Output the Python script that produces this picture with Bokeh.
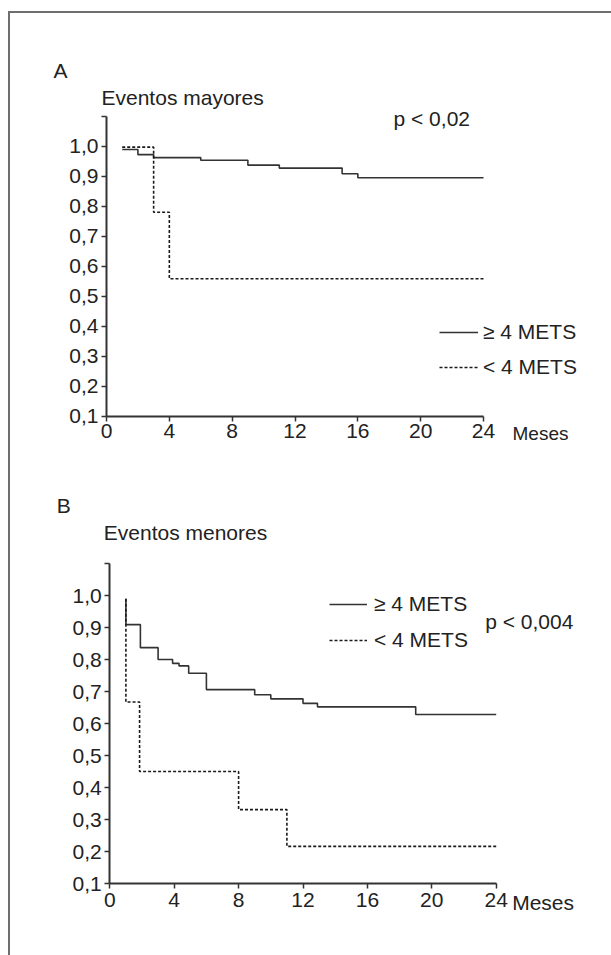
from bokeh.plotting import figure
from bokeh.models import Range1d, Label, Legend, LegendItem, FixedTicker, CustomJSTickFormatter
from bokeh.layouts import column
from bokeh.embed import file_html
from bokeh.resources import INLINE

FONT = "Liberation Sans"
TEXT = "#222222"
LINE = "#333333"

# ---- data ----
month_ticks = [0, 4, 8, 12, 16, 20, 24]
surv_ticks = [0.1, 0.2, 0.3, 0.4, 0.5, 0.6, 0.7, 0.8, 0.9, 1.0, 1.1]
legend_labels = ["≥ 4 METS", "< 4 METS"]

# Panel A: Eventos mayores
a_months_hi = [1, 2, 3, 6, 9, 11, 15, 16, 24]
a_surv_hi = [0.989, 0.972, 0.962, 0.953, 0.937, 0.927, 0.908, 0.895, 0.895]
a_months_lo = [1, 3, 4, 24]
a_surv_lo = [0.997, 0.78, 0.558, 0.558]

# Panel B: Eventos menores
b_months_hi = [1, 1, 1.9, 3, 3.9, 4.3, 4.9, 6, 9, 10, 12, 12.9, 19, 24]
b_surv_hi = [0.99, 0.909, 0.837, 0.80, 0.788, 0.78, 0.757, 0.706, 0.69, 0.677,
             0.663, 0.652, 0.628, 0.628]
b_months_lo = [1, 1, 1.85, 8, 11, 24]
b_surv_lo = [0.99, 0.667, 0.45, 0.331, 0.216, 0.216]

# ---- layout geometry (page pixels) ----
PAGE_X0 = 10           # left edge of figures (after border)
FIG_W = 601
BORDER_L = 42
FRAME_L = PAGE_X0 + BORDER_L
FRAME_R = PAGE_X0 + FIG_W
BORDER_B = 40


def make_panel(page_top, height, x0_px, x_ppu, y0_px, y_ppu,
               letter, title, pval, months_hi, surv_hi, months_lo, surv_lo, geo):
    frame_top = page_top
    frame_bot = page_top + height - BORDER_B
    x_range = Range1d(0 + (FRAME_L - x0_px) / x_ppu, 0 + (FRAME_R - x0_px) / x_ppu)
    y_range = Range1d(0.1 - (frame_bot - y0_px) / y_ppu, 0.1 + (y0_px - frame_top) / y_ppu)
    p = figure(width=FIG_W, height=height, output_backend="svg", toolbar_location=None,
               x_range=x_range, y_range=y_range, title=None,
               min_border_left=BORDER_L, min_border_right=0,
               min_border_top=0, min_border_bottom=BORDER_B)
    p.outline_line_color = None
    p.grid.visible = False
    p.background_fill_color = "white"
    p.border_fill_color = "white"

    for ax in (p.xaxis[0], p.yaxis[0]):
        ax.axis_line_color = LINE
        ax.axis_line_width = 2
        ax.major_tick_line_color = LINE
        ax.major_tick_line_width = 1.5
        ax.major_tick_in = 0
        ax.major_tick_out = 5
        ax.minor_tick_line_color = None
        ax.major_label_text_font = FONT
        ax.major_label_text_font_size = "21px"
        ax.major_label_text_color = TEXT
    p.xaxis.ticker = FixedTicker(ticks=month_ticks)
    p.yaxis.ticker = FixedTicker(ticks=surv_ticks)
    p.xaxis.bounds = (0, 24)
    p.yaxis.bounds = (0.1, 1.1)
    p.xaxis.fixed_location = 0.1
    p.yaxis.fixed_location = 0
    p.yaxis.formatter = CustomJSTickFormatter(
        code="return tick > 1.05 ? '' : tick.toFixed(1).replace('.', ',');")
    p.xaxis.major_label_standoff = geo["xstand"]
    p.yaxis.major_label_standoff = 3

    r_hi = p.step(months_hi, surv_hi, mode="after", line_color=LINE, line_width=1.6)
    r_lo = p.step(months_lo, surv_lo, mode="after", line_color="#1a1a1a",
                  line_width=1.6, line_dash="3 2")

    lx, ly = geo["legend"]
    legend = Legend(items=[LegendItem(label=legend_labels[0], renderers=[r_hi]),
                           LegendItem(label=legend_labels[1], renderers=[r_lo])],
                    location=(lx - FRAME_L, frame_bot - ly), orientation="vertical",
                    glyph_width=geo["glyph_w"], glyph_height=20,
                    label_standoff=geo["standoff"], label_height=20,
                    spacing=geo["spacing"], padding=0, margin=0,
                    border_line_color=None, background_fill_alpha=0,
                    label_text_font=FONT, label_text_font_size="21px",
                    label_text_color=TEXT)
    p.add_layout(legend)

    def lab(txt, x, y, dx, dy, size="21px"):
        p.add_layout(Label(x=x, y=y, x_offset=dx, y_offset=dy, text=txt,
                           text_font=FONT, text_font_size=size, text_color=TEXT,
                           text_align="left", text_baseline="middle"))

    lab(letter, 0, 1.1, *geo["letter"])
    lab(title, 0, 1.1, *geo["title"])
    lab(pval, 24, 1.1, *geo["pval"])
    lab("Meses", 24, 0.1, *geo["meses"], size=geo["meses_size"])
    return p


pA = make_panel(13, 477, 106, 377 / 24, 415.7, 300,
                "A", "Eventos mayores", "p < 0,02",
                a_months_hi, a_surv_hi, a_months_lo, a_surv_lo,
                dict(legend=(439, 379), glyph_w=39, standoff=5, spacing=11, xstand=3,
                     letter=(-53, 46), title=(-5, 19), pval=(-90, -2),
                     meses=(29, -17), meses_size="19px"))
pB = make_panel(490, 465, 109.3, 386.4 / 24, 883, 320,
                "B", "Eventos menores", "p < 0,004",
                b_months_hi, b_surv_hi, b_months_lo, b_surv_lo,
                dict(legend=(329, 652), glyph_w=38, standoff=7, spacing=12, xstand=4,
                     letter=(-53, 58), title=(-6, 31), pval=(-11, -58),
                     meses=(16, -19), meses_size="21px"))

layout = column(pA, pB, margin=(11, 0, 0, 8),
                styles={"border-left": "2px solid #6e6e6e",
                        "border-top": "2px solid #6e6e6e"})

open("out.html", "w").write(file_html(layout, INLINE))
